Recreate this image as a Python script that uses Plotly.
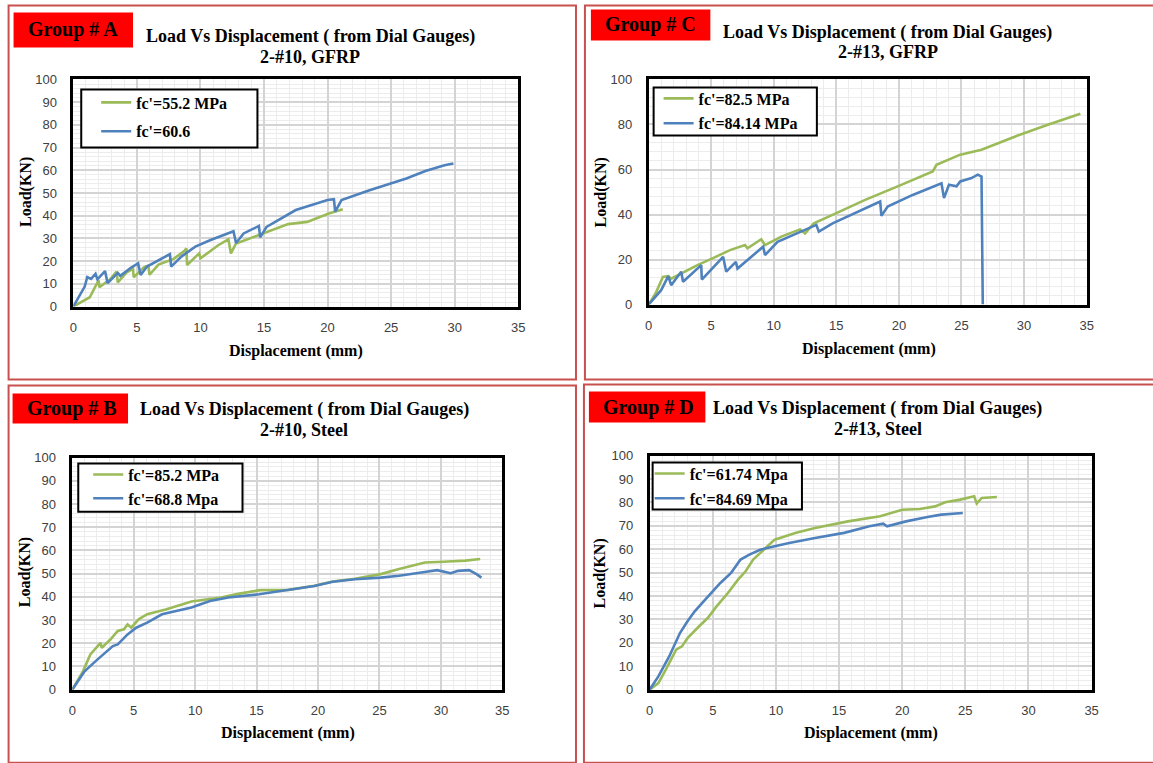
import plotly.graph_objects as go

W, H = 1153, 763

# ---------------- DATA ----------------
# Group A : 2-#10, GFRP
a_green_x = [0, 0.8, 1.3, 1.75, 2.0, 2.05, 2.9, 3.4, 3.5, 4.2, 4.7, 4.75, 5.6, 5.9, 6.0, 6.7, 7.9, 8.75, 8.9, 8.95, 9.9, 10.0, 11.4, 12.2, 12.4, 12.8, 14.6, 16.9, 18.4, 20.1, 21.2]
a_green_y = [0, 2.6, 4.1, 9.0, 11.5, 8.5, 12.0, 15.4, 10.7, 15.0, 16.6, 12.9, 17.5, 18.0, 14.0, 18.5, 21.0, 24.6, 25.6, 18.3, 23.4, 21.2, 27.0, 29.6, 23.4, 27.8, 31.5, 36.3, 37.3, 41.0, 42.8]
a_blue_x = [0, 0.9, 1.1, 1.4, 1.75, 1.9, 2.5, 2.7, 3.5, 3.7, 4.5, 5.1, 5.3, 5.8, 7.6, 7.7, 8.5, 9.6, 10.8, 12.6, 12.8, 13.4, 14.6, 14.7, 15.2, 17.5, 20.0, 20.5, 20.6, 21.1, 23.3, 26.2, 27.7, 29.2, 29.9]
a_blue_y = [0, 8.8, 13.0, 12.2, 14.4, 12.0, 15.6, 10.3, 14.8, 13.5, 17.0, 19.0, 13.9, 17.6, 23.1, 17.6, 22.0, 26.4, 29.3, 33.2, 28.0, 32.2, 35.5, 30.5, 35.1, 42.5, 46.9, 47.3, 41.8, 46.9, 51.2, 56.4, 59.7, 62.2, 63.0]

# Group C : 2-#13, GFRP
c_green_x = [0, 0.55, 1.14, 1.57, 1.8, 3.0, 3.9, 5.1, 6.5, 7.7, 7.9, 9.0, 9.3, 10.6, 12.1, 12.5, 13.2, 15.0, 17.3, 19.9, 22.7, 23.0, 24.9, 26.6, 29.3, 31.9, 34.5]
c_green_y = [0, 4.9, 12.3, 12.6, 11.5, 15.0, 17.5, 20.5, 24.2, 26.4, 25.0, 29.0, 26.4, 30.2, 33.4, 31.6, 36.1, 40.6, 46.5, 52.5, 59.1, 62.1, 66.6, 68.8, 74.7, 79.9, 84.8]
c_blue_x = [0, 1.0, 1.57, 1.8, 2.6, 2.75, 4.2, 4.25, 5.95, 6.2, 6.97, 7.1, 9.15, 9.3, 10.3, 13.4, 13.6, 14.7, 18.5, 18.6, 19.1, 21.1, 23.4, 23.6, 24.0, 24.6, 24.9, 25.8, 26.3, 26.6, 26.7]
c_blue_y = [0, 6.4, 12.6, 8.6, 14.6, 10.1, 17.5, 11.1, 21.2, 14.6, 19.0, 16.0, 25.7, 22.0, 27.9, 35.4, 32.4, 36.1, 45.8, 39.4, 43.5, 48.7, 53.9, 47.3, 53.2, 52.5, 54.7, 56.2, 57.7, 56.9, 0]

# Group B : 2-#10, Steel
b_green_x = [0, 0.87, 1.47, 2.07, 2.3, 2.4, 3.1, 3.7, 4.2, 4.5, 4.8, 5.4, 6.1, 7.6, 9.7, 12.1, 13.6, 15.3, 17.6, 19.7, 21.2, 23.0, 25.1, 26.6, 28.1, 28.7, 30.2, 32.0, 33.2]
b_green_y = [0, 7.9, 15.2, 18.8, 20.2, 18.0, 21.6, 25.3, 26.0, 28.1, 26.7, 30.3, 32.5, 34.6, 38.0, 39.7, 41.4, 42.9, 43.0, 44.8, 46.6, 47.8, 49.8, 52.0, 53.8, 54.8, 55.1, 55.6, 56.3]
b_blue_x = [0, 1.0, 1.9, 2.8, 3.3, 3.7, 4.5, 5.2, 6.1, 7.3, 8.5, 9.7, 11.2, 12.7, 15.2, 17.6, 19.7, 21.2, 23.0, 25.1, 26.6, 28.4, 29.7, 30.8, 31.4, 32.3, 32.9, 33.3]
b_blue_y = [0, 7.9, 12.3, 16.6, 18.8, 19.5, 23.8, 26.7, 28.9, 32.5, 33.9, 35.4, 38.2, 39.7, 41.1, 42.9, 44.7, 46.5, 47.6, 48.3, 49.1, 50.5, 51.5, 50.2, 51.2, 51.5, 49.8, 48.3]

# Group D : 2-#13, Steel
d_green_x = [0, 0.69, 1.27, 2.1, 2.56, 3.0, 3.9, 4.6, 5.3, 6.2, 7.0, 7.6, 8.2, 9.0, 9.9, 11.6, 13.1, 15.7, 18.25, 20.0, 21.4, 22.6, 23.4, 24.6, 25.7, 25.9, 26.3, 27.5]
d_green_y = [0, 2.8, 8.5, 17.1, 18.5, 22.0, 27.0, 30.6, 35.6, 41.3, 47.0, 50.6, 55.6, 59.8, 64.1, 67.0, 69.1, 71.9, 74.1, 76.9, 77.2, 78.3, 80.1, 81.2, 82.6, 79.5, 81.9, 82.3]
d_blue_x = [0, 0.69, 1.55, 2.4, 3.0, 3.57, 4.4, 5.6, 6.45, 7.2, 7.9, 8.75, 9.9, 11.05, 13.1, 15.4, 17.4, 18.5, 18.8, 20.3, 22.0, 23.1, 24.8]
d_blue_y = [0, 5.7, 14.2, 24.2, 29.2, 33.5, 38.5, 45.6, 49.9, 55.6, 57.7, 59.8, 61.3, 62.7, 64.8, 67.0, 69.8, 70.9, 69.8, 71.9, 73.8, 74.8, 75.5]

panels = [
    dict(key="A", sub="2-#10, GFRP", gname="fc'=55.2 MPa", bname="fc'=60.6",
         gx=a_green_x, gy=a_green_y, bx=a_blue_x, by=a_blue_y, ydt=10),
    dict(key="C", sub="2-#13, GFRP", gname="fc'=82.5 MPa", bname="fc'=84.14 MPa",
         gx=c_green_x, gy=c_green_y, bx=c_blue_x, by=c_blue_y, ydt=20),
    dict(key="B", sub="2-#10, Steel", gname="fc'=85.2 MPa", bname="fc'=68.8 Mpa",
         gx=b_green_x, gy=b_green_y, bx=b_blue_x, by=b_blue_y, ydt=10),
    dict(key="D", sub="2-#13, Steel", gname="fc'=61.74 Mpa", bname="fc'=84.69 Mpa",
         gx=d_green_x, gy=d_green_y, bx=d_blue_x, by=d_blue_y, ydt=10),
]

# ---------------- LAYOUT (pixel geometry, target picture coordinates) ----------------
geo = {
    "A": dict(px=(73, 520), py=(79, 306), border=(8, 578, 5, 379), lab=(13, 133, 12, 47),
              tc=(311, 36, 57), lbox=(81, 258, 89, 147), lx=105, ly=103, gap=5,
              ylab=(25, 192), xlab=(297, 350)),
    "C": dict(px=(651, 1091), py=(79, 304), border=(587, 1160, 5, 379), lab=(593, 713, 9, 40),
              tc=(891, 32, 52), lbox=(656, 820, 87, 135), lx=670, ly=99, gap=1,
              ylab=(603, 192), xlab=(872, 348)),
    "B": dict(px=(72, 504), py=(457, 689), border=(8, 578, 385, 762), lab=(12, 128, 393, 423),
              tc=(305, 409, 429), lbox=(78, 243, 463, 511), lx=97, ly=475, gap=0,
              ylab=(24, 572), xlab=(289, 732)),
    "D": dict(px=(652, 1096), py=(455, 689), border=(586, 1160, 384, 762), lab=(591, 708, 391, 422),
              tc=(881, 408, 428), lbox=(655, 805, 462, 509), lx=661, ly=474, gap=1,
              ylab=(602, 573), xlab=(874, 732)),
}

GREEN = "#9BBB59"
BLUE = "#4F81BD"
SERIF = "Liberation Serif"
SANS = "Liberation Sans"

# the photographed page is slightly rescaled; compensate
SX, OX = 0.995, 3.4
SY, OY = 0.980, 6.55


def fx(px):
    return ((px - OX) / SX) / W


def fy(py):
    return 1 - ((py - OY) / SY) / H


fig = go.Figure()
shapes = []
annotations = []
layout = {}

for i, p in enumerate(panels):
    g = geo[p["key"]]
    n = "" if i == 0 else str(i + 1)
    xa, ya = "x" + n, "y" + n
    leg = "legend" + n
    for name, xs, ys, col, grp in ((p["gname"], p["gx"], p["gy"], GREEN, "g"),
                                  (p["bname"], p["bx"], p["by"], BLUE, "b")):
        fig.add_trace(go.Scatter(x=xs, y=ys, mode="lines", name="<b>" + name + "</b>",
                                 line=dict(color=col, width=2.6), xaxis=xa, yaxis=ya,
                                 legend=leg, legendgroup=p["key"] + grp, hoverinfo="skip"))
    layout["xaxis" + n] = dict(
        domain=[fx(g["px"][0]), fx(g["px"][1])], anchor=ya, range=[0, 35],
        tick0=0, dtick=5, showgrid=True, gridcolor="#d4d4d4", gridwidth=1.5,
        minor=dict(dtick=1, showgrid=True, gridcolor="#ececec", gridwidth=1),
        showline=True, linecolor="black", linewidth=2.5, mirror=True, zeroline=False,
        ticks="", tickfont=dict(family=SANS, size=13, color="#404040"), ticklabelstandoff=7,
        fixedrange=True)
    layout["yaxis" + n] = dict(
        domain=[fy(g["py"][1]), fy(g["py"][0])], anchor=xa, range=[0, 100],
        tick0=0, dtick=p["ydt"], showgrid=True, gridcolor="#d4d4d4", gridwidth=1.5,
        minor=dict(dtick=p["ydt"] / 5, showgrid=True, gridcolor="#ececec", gridwidth=1),
        showline=True, linecolor="black", linewidth=2.5, mirror=True, zeroline=False,
        ticks="", tickfont=dict(family=SANS, size=13, color="#404040"), ticklabelstandoff=11,
        fixedrange=True)
    layout[leg] = dict(
        x=fx(g["lx"] - 9), y=fy(g["ly"] - 18), xref="paper", yref="paper",
        xanchor="left", yanchor="top", bgcolor="rgba(0,0,0,0)", borderwidth=0,
        font=dict(family=SERIF, size=16, color="black"), itemwidth=30,
        tracegroupgap=g["gap"], traceorder="grouped")

    lb = g["lbox"]
    shapes.append(dict(type="rect", xref="paper", yref="paper", x0=fx(lb[0]), x1=fx(lb[1]),
                       y0=fy(lb[3]), y1=fy(lb[2]), line=dict(color="black", width=2),
                       fillcolor="white", layer="above"))
    b = g["border"]
    shapes.append(dict(type="rect", xref="paper", yref="paper", x0=fx(b[0]), x1=fx(b[1]),
                       y0=fy(b[3]), y1=fy(b[2]), line=dict(color="#C8504F", width=2),
                       fillcolor="rgba(0,0,0,0)", layer="below"))
    L = g["lab"]
    shapes.append(dict(type="rect", xref="paper", yref="paper", x0=fx(L[0]), x1=fx(L[1]),
                       y0=fy(L[3]), y1=fy(L[2]), line=dict(width=0), fillcolor="#FF0000",
                       layer="below"))
    annotations.append(dict(text="<b>Group # " + p["key"] + "</b>", xref="paper", yref="paper",
                            x=fx(L[0] + 12), y=fy((L[2] + L[3]) / 2), xanchor="left",
                            yanchor="middle", showarrow=False,
                            font=dict(family=SERIF, size=20, color="black")))
    tc = g["tc"]
    annotations.append(dict(text="<b>Load Vs Displacement ( from Dial Gauges)</b>", xref="paper",
                            yref="paper", x=fx(tc[0]), y=fy(tc[1]), xanchor="center",
                            yanchor="middle", showarrow=False,
                            font=dict(family=SERIF, size=18, color="black")))
    annotations.append(dict(text="<b>" + p["sub"] + "</b>", xref="paper", yref="paper",
                            x=fx(tc[0]), y=fy(tc[2]), xanchor="center", yanchor="middle",
                            showarrow=False, font=dict(family=SERIF, size=18, color="black")))
    annotations.append(dict(text="<b>Load(KN)</b>", xref="paper", yref="paper",
                            x=fx(g["ylab"][0]), y=fy(g["ylab"][1]), textangle=-90,
                            xanchor="center", yanchor="middle", showarrow=False,
                            font=dict(family=SERIF, size=16, color="black")))
    annotations.append(dict(text="<b>Displacement (mm)</b>", xref="paper", yref="paper",
                            x=fx(g["xlab"][0]), y=fy(g["xlab"][1]), xanchor="center",
                            yanchor="middle", showarrow=False,
                            font=dict(family=SERIF, size=16, color="black")))

fig.update_layout(**layout)
fig.update_layout(width=W, height=H, margin=dict(l=0, r=0, t=0, b=0),
                  paper_bgcolor="white", plot_bgcolor="white",
                  shapes=shapes, annotations=annotations, showlegend=True)

fig.write_html("out.html",
               config=dict(displayModeBar=False, responsive=False),
               post_script="document.documentElement.style.margin='0';"
                           "document.body.style.margin='0';document.body.style.padding='0';"
                           "document.documentElement.style.overflow='hidden';"
                           "document.body.style.overflow='hidden';")
